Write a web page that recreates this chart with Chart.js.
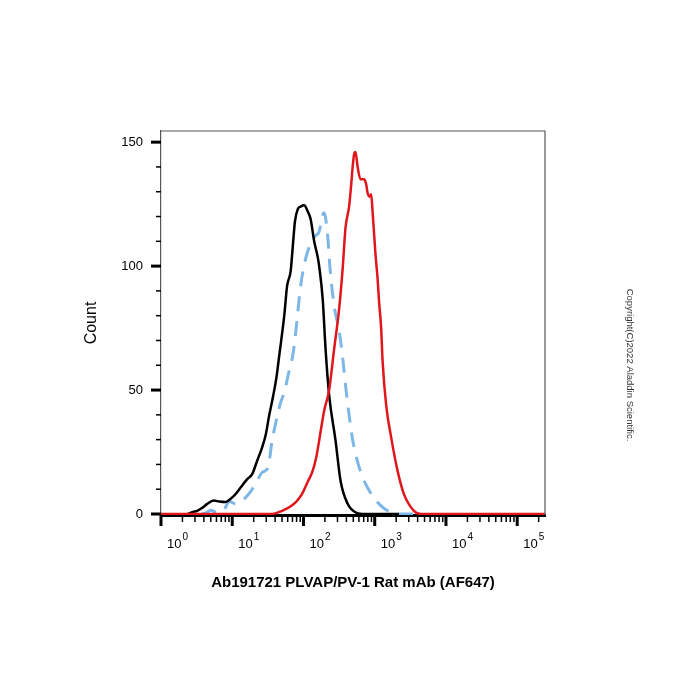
<!DOCTYPE html>
<html>
<head>
<meta charset="utf-8">
<script src="https://cdn.jsdelivr.net/npm/chart.js@4/dist/chart.umd.min.js"></script>
<style>
  body { margin: 0; background: #fff; }
  #wrap { width: 700px; height: 700px; }
</style>
</head>
<body>
<div id="wrap"><canvas id="chart1" width="700" height="700"></canvas></div>
<script>
// x values are log10 of fluorescence intensity, y values are event counts
const blackX = [0.37, 0.45, 0.51, 0.58, 0.65, 0.74, 0.82, 0.90, 1.00, 1.06, 1.12, 1.21, 1.28, 1.35, 1.42, 1.47, 1.52, 1.57, 1.62, 1.66, 1.73, 1.77, 1.82, 1.85, 1.88, 1.92, 1.96, 2.01, 2.06, 2.10, 2.15, 2.20, 2.22, 2.27, 2.31, 2.36, 2.45, 2.52, 2.62, 2.73, 2.87, 3.34];
const blackY = [0, 0.8, 1.3, 2.5, 4.1, 5.4, 5.0, 4.8, 6.7, 8.5, 10.8, 14.1, 16.1, 21.5, 26.9, 32, 40, 47, 55, 64, 80, 92, 98, 108, 118, 123, 124, 124.5, 122, 119, 110, 103.6, 100, 86.6, 66.5, 48, 29.6, 13.4, 4.1, 0.7, 0, 0];

const blueX = [0.58, 0.64, 0.70, 0.78, 0.88, 0.96, 1.05, 1.14, 1.19, 1.27, 1.35, 1.42, 1.50, 1.56, 1.62, 1.68, 1.73, 1.80, 1.85, 1.89, 1.96, 2.03, 2.10, 2.16, 2.22, 2.27, 2.29, 2.34, 2.37, 2.43, 2.50, 2.55, 2.59, 2.64, 2.69, 2.76, 2.83, 2.95, 3.06, 3.18, 3.34, 3.65];
const blueY = [0, 0.6, 1.5, 0.6, 1.5, 5.0, 4.1, 5.4, 6.7, 9.5, 13.4, 16.8, 18.5, 29.6, 38, 45, 49, 58, 64, 73, 92, 103, 109, 112, 114, 120.6, 121.5, 112, 100, 84, 74, 63, 52, 40, 30, 21, 14.8, 8.1, 4.1, 1.3, 0, 0];

const redX = [0, 1.56, 1.70, 1.80, 1.90, 1.98, 2.06, 2.13, 2.18, 2.22, 2.29, 2.36, 2.43, 2.50, 2.55, 2.59, 2.64, 2.67, 2.69, 2.71, 2.73, 2.76, 2.80, 2.85, 2.88, 2.90, 2.93, 2.95, 2.97, 3.01, 3.04, 3.06, 3.09, 3.11, 3.16, 3.23, 3.32, 3.41, 3.55, 3.65, 5.39];
const redY = [0, 0, 1.3, 2.7, 5, 8.1, 13, 17.5, 23, 29.6, 41.7, 50, 66.5, 82.6, 99, 115.5, 124, 133, 140, 145, 146, 140, 135, 135, 133, 129.5, 128, 129, 122, 105, 95, 86, 75, 62, 44, 31, 17.5, 8, 1.3, 0, 0];

// axis ticks
const xDecades = [0, 1, 2, 3, 4, 5];
const xMinorMult = [2, 3, 4, 5, 6, 7, 8, 9];
const yLabels = [0, 50, 100, 150];
const yMinor = [10, 20, 30, 40, 60, 70, 80, 90, 110, 120, 130, 140];

const xTitle = 'Ab191721 PLVAP/PV-1 Rat mAb (AF647)';
const yTitle = 'Count';
const copyright = 'Copyright(C)2022 Aladdin Scientific.';

const FONT = "'Liberation Sans', Arial, sans-serif";

function toPoints(xs, ys) {
  return xs.map((x, i) => ({ x: x, y: ys[i] }));
}

// Draws frame, tick marks, x labels with exponents, titles and copyright
const decorPlugin = {
  id: 'decor',
  afterDraw(chart) {
    const ctx = chart.ctx;
    const a = chart.chartArea;
    const xs = chart.scales.x;
    const ys = chart.scales.y;
    ctx.save();

    // top and right frame
    ctx.strokeStyle = '#555';
    ctx.lineWidth = 1.2;
    ctx.beginPath();
    ctx.moveTo(a.left, a.top);
    ctx.lineTo(a.right, a.top);
    ctx.lineTo(a.right, a.bottom);
    ctx.stroke();

    ctx.strokeStyle = '#000';
    // y ticks
    yLabels.forEach(v => {
      const py = ys.getPixelForValue(v);
      ctx.lineWidth = 3;
      ctx.beginPath();
      ctx.moveTo(a.left - 10, py);
      ctx.lineTo(a.left, py);
      ctx.stroke();
    });
    yMinor.forEach(v => {
      const py = ys.getPixelForValue(v);
      ctx.lineWidth = 1.5;
      ctx.beginPath();
      ctx.moveTo(a.left - 5, py);
      ctx.lineTo(a.left, py);
      ctx.stroke();
    });

    // x ticks
    xDecades.forEach(d => {
      const px = xs.getPixelForValue(d);
      ctx.lineWidth = 3;
      ctx.beginPath();
      ctx.moveTo(px, a.bottom);
      ctx.lineTo(px, a.bottom + 11);
      ctx.stroke();
      xMinorMult.forEach(m => {
        const v = d + Math.log10(m);
        if (v > xs.max) return;
        const mx = xs.getPixelForValue(v);
        ctx.lineWidth = 1.5;
        ctx.beginPath();
        ctx.moveTo(mx, a.bottom);
        ctx.lineTo(mx, a.bottom + 7);
        ctx.stroke();
      });
    });

    // x tick labels: 10 with raised exponent
    ctx.fillStyle = '#000';
    ctx.textAlign = 'left';
    ctx.textBaseline = 'alphabetic';
    xDecades.forEach(d => {
      const px = xs.getPixelForValue(d) + 6;
      ctx.font = '13px ' + FONT;
      ctx.fillText('10', px, 548);
      const w = ctx.measureText('10').width;
      ctx.font = '10px ' + FONT;
      ctx.fillText(String(d), px + w + 1, 540);
    });

    // x title
    ctx.font = 'bold 15px ' + FONT;
    ctx.textAlign = 'center';
    ctx.fillText(xTitle, (a.left + a.right) / 2, 587);

    // y title
    ctx.save();
    ctx.translate(96, (a.top + a.bottom) / 2);
    ctx.rotate(-Math.PI / 2);
    ctx.font = '16px ' + FONT;
    ctx.textAlign = 'center';
    ctx.fillText(yTitle, 0, 0);
    ctx.restore();

    // copyright, reading top to bottom
    ctx.save();
    ctx.translate(630, 365);
    ctx.rotate(Math.PI / 2);
    ctx.font = '9.5px ' + FONT;
    ctx.fillStyle = '#333';
    ctx.textAlign = 'center';
    ctx.textBaseline = 'middle';
    ctx.fillText(copyright, 0, 0);
    ctx.restore();

    ctx.restore();
  }
};

const chart1 = new Chart(document.getElementById('chart1').getContext('2d'), {
  type: 'line',
  data: {
    datasets: [
      {
        label: 'Stained',
        data: toPoints(redX, redY),
        borderColor: '#e0161c',
        borderWidth: 2.5
      },
      {
        label: 'Isotype',
        data: toPoints(blackX, blackY),
        borderColor: '#000000',
        borderWidth: 2.5
      },
      {
        label: 'Blank',
        data: toPoints(blueX, blueY),
        borderColor: '#7db7e8',
        borderWidth: 3,
        borderDash: [15, 10]
      }
    ]
  },
  options: {
    responsive: false,
    animation: false,
    events: [],
    layout: { padding: { left: 0, top: 131, right: 155, bottom: 0 } },
    elements: {
      point: { radius: 0 },
      line: { cubicInterpolationMode: 'monotone', fill: false }
    },
    plugins: {
      legend: { display: false },
      tooltip: { enabled: false }
    },
    scales: {
      x: {
        type: 'linear',
        min: 0,
        max: 5.39,
        grid: { display: false },
        border: { color: '#000', width: 3 },
        ticks: { display: false },
        afterFit: s => { s.height = 185; }
      },
      y: {
        type: 'linear',
        min: -0.4,
        max: 154.5,
        grid: { display: false },
        border: { color: '#555', width: 1.2 },
        afterBuildTicks: s => { s.ticks = yLabels.map(v => ({ value: v })); },
        ticks: {
          color: '#000',
          padding: 10,
          font: { family: FONT, size: 13 }
        },
        afterFit: s => { s.width = 161; }
      }
    }
  },
  plugins: [decorPlugin]
});
</script>
</body>
</html>
